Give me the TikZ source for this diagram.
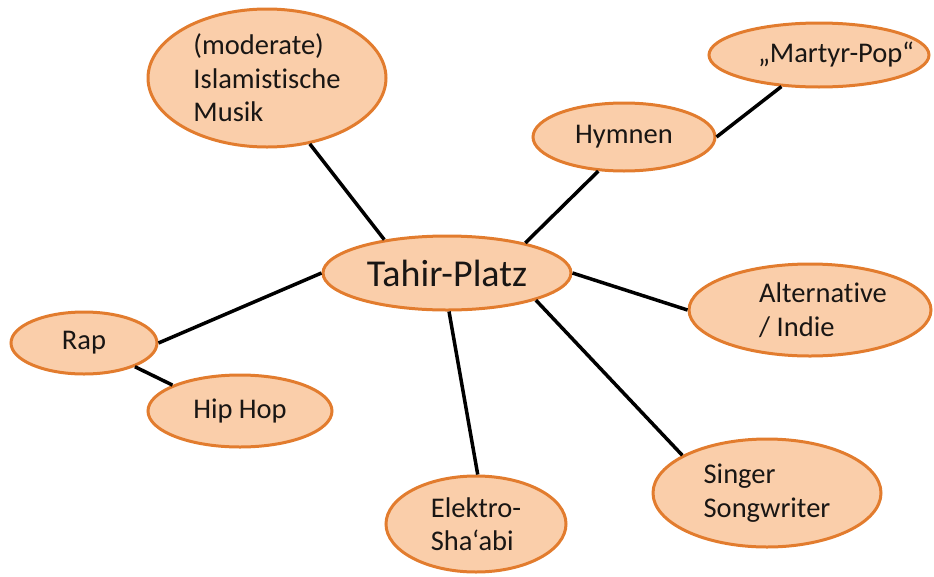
\documentclass[tikz,border=0pt]{standalone}
\usepackage{fontspec}
\setmainfont{Carlito}[Ligatures=NoCommon]
\usetikzlibrary{shapes.geometric}
\definecolor{bfill}{RGB}{250,206,170}
\definecolor{bdraw}{RGB}{226,124,46}
\definecolor{btext}{RGB}{25,22,20}
\begin{document}
\begin{tikzpicture}[x=1pt,y=-1pt,
  bubble/.style={ellipse, draw=bdraw, line width=3pt, fill=bfill, inner sep=0pt,
    align=left, text=btext, font=\fontsize{28.5}{33.5}\selectfont},
  conn/.style={line width=3.5pt, black}]
\useasboundingbox (0,0) rectangle (934,576);

\node[bubble, minimum width=248pt, minimum height=74pt, font=\fontsize{38}{44}\selectfont] (c) at (447,273) {Tahir-Platz};
\node[bubble, minimum width=238pt, minimum height=138pt] (isl) at (267,78) {(moderate)\\Islamistische\\Musik};
\node[bubble, minimum width=182pt, minimum height=68pt] (hym) at (624,137) {Hymnen};
\node[bubble, minimum width=220pt, minimum height=64pt] (mp) at (819,55) {\makebox[0pt]{\hspace{34pt}„Martyr-Pop“}};
\node[bubble, minimum width=242pt, minimum height=92pt] (alt) at (810,310) {\hspace*{26pt}Alternative\\\hspace*{26pt}/ Indie};
\node[bubble, minimum width=146pt, minimum height=62pt] (rap) at (84,343) {Rap};
\node[bubble, minimum width=184pt, minimum height=72pt] (hh) at (240,411) {Hip Hop};
\node[bubble, minimum width=180pt, minimum height=96pt] (ele) at (476,524) {Elektro-\\Sha‘abi};
\node[bubble, minimum width=228pt, minimum height=108pt] (sing) at (767,493) {Singer\\Songwriter};

\draw[conn] (c.152.8) -- (isl.303.7);
\draw[conn] (c.21) -- (hym.233);
\draw[conn] (hym.east) -- (mp.220);
\draw[conn] (c.east) -- (alt.west);
\draw[conn] (c.west) -- (rap.east);
\draw[conn] (rap.335.6) -- (hh.159.7);
\draw[conn] (c.273) -- (ele.88);
\draw[conn] (c.343) -- (sing.156);
\end{tikzpicture}
\end{document}
